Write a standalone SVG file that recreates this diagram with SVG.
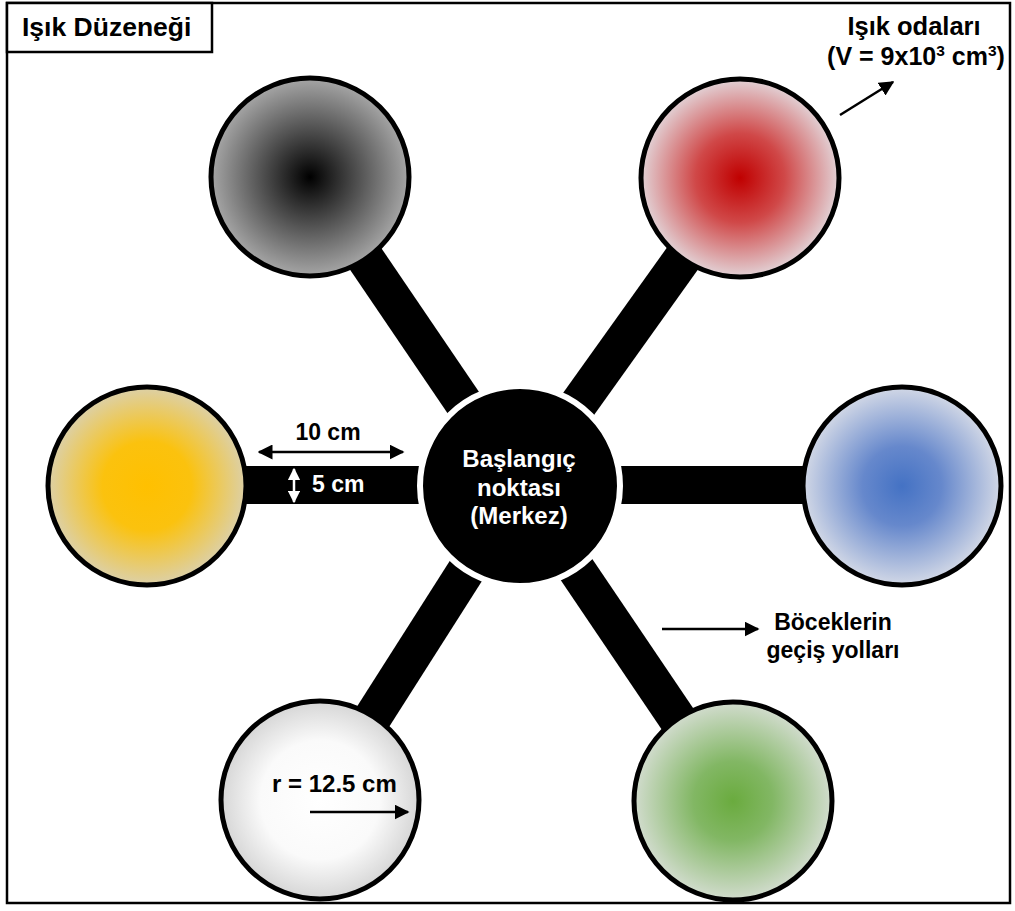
<svg xmlns="http://www.w3.org/2000/svg" width="1015" height="911" viewBox="0 0 1015 911">
<defs>
<style>
.t{font-family:"Liberation Sans",Arial,sans-serif;font-weight:bold;fill:#000}
.w{fill:#fff}
.room{stroke:#000;stroke-width:5}
.arm{stroke:#000;stroke-width:38;fill:none}
.ar{stroke:#000;stroke-width:2.5;fill:none}
.arw{stroke:#fff;stroke-width:2.5;fill:none}
</style>
<marker id="ah" viewBox="0 0 10 10" refX="9" refY="5" markerWidth="6" markerHeight="6" markerUnits="strokeWidth" orient="auto-start-reverse"><path d="M0,0 L10,5 L0,10 z" fill="#000"/></marker>
<marker id="ahw" viewBox="0 0 10 10" refX="9" refY="5" markerWidth="5" markerHeight="5" markerUnits="strokeWidth" orient="auto-start-reverse"><path d="M0,0 L10,5 L0,10 z" fill="#fff"/></marker>
<radialGradient id="gBlack"><stop offset="0" stop-color="#000"/><stop offset="0.35" stop-color="#3a3a3a"/><stop offset="1" stop-color="#a6a6a6"/></radialGradient>
<radialGradient id="gRed"><stop offset="0" stop-color="#c00000"/><stop offset="0.45" stop-color="#d04848"/><stop offset="1" stop-color="#e2d2d6"/></radialGradient>
<radialGradient id="gYellow"><stop offset="0" stop-color="#ffc000"/><stop offset="0.45" stop-color="#fbc20e"/><stop offset="1" stop-color="#dcd0a8"/></radialGradient>
<radialGradient id="gBlue"><stop offset="0" stop-color="#4472c4"/><stop offset="0.4" stop-color="#6688cc"/><stop offset="1" stop-color="#d2d8e6"/></radialGradient>
<radialGradient id="gGreen"><stop offset="0" stop-color="#6aab3e"/><stop offset="0.4" stop-color="#82b764"/><stop offset="1" stop-color="#d2dcce"/></radialGradient>
<radialGradient id="gWhite"><stop offset="0" stop-color="#fff"/><stop offset="0.6" stop-color="#fafafa"/><stop offset="1" stop-color="#d6d6d6"/></radialGradient>
</defs>
<rect x="0" y="0" width="1015" height="911" fill="#fff"/>
<rect x="7" y="3" width="1003" height="900" fill="none" stroke="#000" stroke-width="2.5"/>
<g id="title">
<rect x="7" y="3" width="205" height="49" fill="#fff" stroke="#000" stroke-width="2.5"/>
<text class="t" x="22" y="36" font-size="26.5">Işık Düzeneği</text>
</g>
<g id="connectors">
<line class="arm" x1="310" y1="177" x2="520" y2="486"/>
<line class="arm" x1="740" y1="178" x2="520" y2="486"/>
<line class="arm" x1="147" y1="485" x2="520" y2="485"/>
<line class="arm" x1="902" y1="485" x2="520" y2="485"/>
<line class="arm" x1="320" y1="800" x2="520" y2="486"/>
<line class="arm" x1="733" y1="801" x2="520" y2="486"/>
</g>
<g id="room-black"><circle class="room" cx="310" cy="177" r="99" fill="url(#gBlack)"/></g>
<g id="room-red"><circle class="room" cx="740" cy="178" r="99" fill="url(#gRed)"/></g>
<g id="room-yellow"><circle class="room" cx="147" cy="486" r="99" fill="url(#gYellow)"/></g>
<g id="room-blue"><circle class="room" cx="902" cy="486" r="99" fill="url(#gBlue)"/></g>
<g id="room-white"><circle class="room" cx="320" cy="800" r="99" fill="url(#gWhite)"/></g>
<g id="room-green"><circle class="room" cx="733" cy="801" r="99" fill="url(#gGreen)"/></g>
<g id="center">
<circle cx="520" cy="486" r="100" fill="#000" stroke="#fff" stroke-width="6"/>
<text class="t w" x="519" y="467" font-size="24" text-anchor="middle">Başlangıç</text>
<text class="t w" x="519" y="496" font-size="24" text-anchor="middle">noktası</text>
<text class="t w" x="519" y="524" font-size="24" text-anchor="middle">(Merkez)</text>
</g>
<g id="label-rooms">
<text class="t" x="914" y="35" font-size="25.5" text-anchor="middle">Işık odaları</text>
<text class="t" x="916" y="65" font-size="25" text-anchor="middle">(V = 9x10<tspan font-size="15.5" dy="-9">3</tspan><tspan dy="9"> cm</tspan><tspan font-size="15.5" dy="-9">3</tspan><tspan dy="9">)</tspan></text>
<line class="ar" x1="840" y1="115" x2="893" y2="82" marker-end="url(#ah)"/>
</g>
<g id="label-length">
<text class="t" x="328" y="440" font-size="23" text-anchor="middle">10 cm</text>
<line class="ar" x1="259" y1="452" x2="403" y2="452" marker-start="url(#ah)" marker-end="url(#ah)"/>
</g>
<g id="label-width">
<line class="arw" x1="294" y1="469" x2="294" y2="502" marker-start="url(#ahw)" marker-end="url(#ahw)"/>
<text class="t w" x="312" y="492" font-size="23">5 cm</text>
</g>
<g id="label-radius">
<text class="t" x="272" y="792" font-size="24">r = 12.5 cm</text>
<line class="ar" x1="310" y1="812" x2="408" y2="812" marker-end="url(#ah)"/>
</g>
<g id="label-paths">
<line class="ar" x1="662" y1="629" x2="758" y2="629" marker-end="url(#ah)"/>
<text class="t" x="833" y="630" font-size="23" text-anchor="middle">Böceklerin</text>
<text class="t" x="833" y="658" font-size="23" text-anchor="middle">geçiş yolları</text>
</g>
</svg>
